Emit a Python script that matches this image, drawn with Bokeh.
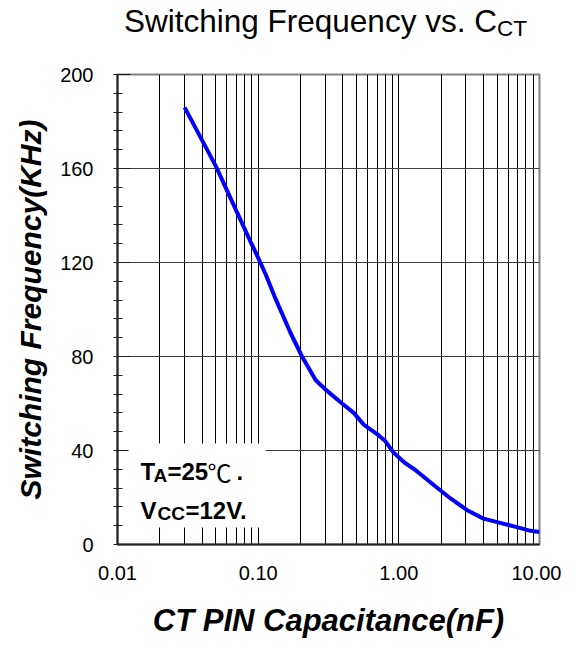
import math
from bokeh.plotting import figure
from bokeh.models import FixedTicker, NumeralTickFormatter, Label, BoxAnnotation, Range1d, Div
from bokeh.layouts import column
from bokeh.embed import file_html
from bokeh.resources import INLINE

# ---- data ----
cap_nf = [0.03, 0.05, 0.0835, 0.088, 0.1, 0.113, 0.133, 0.17, 0.205, 0.256, 0.3,
          0.395, 0.478, 0.563, 0.7, 0.8, 0.92, 1.11, 1.31, 1.77, 2.33, 3.06,
          4.0, 5.0, 6.9, 8.4, 10.0]
freq_khz = [186, 161, 132, 129, 122, 115, 104.5, 90, 80, 70, 66,
            60, 56, 51, 47, 44, 39, 34.6, 31.7, 25.3, 19.6, 14.6,
            11, 9.5, 7.4, 6, 5.3]

x_major = [0.01, 0.1, 1.0, 10.0]
x_minor = [m * d for d in (0.01, 0.1, 1.0) for m in range(2, 10)]
y_major = [0, 40, 80, 120, 160, 200]
y_minor = [v for v in range(8, 200, 8) if v % 40 != 0]

FONT = "Liberation Sans"
TITLE_H = 46

title = Div(
    text=('Switching Frequency vs. C<span style="font-size:22.5px;position:relative;top:4px">CT</span>'),
    width=561, height=TITLE_H, margin=0,
    styles={"font-family": FONT, "font-size": "31.5px", "line-height": "1",
            "padding-top": "6px", "padding-left": "124px", "color": "black",
            "white-space": "nowrap"})

p = figure(width=561, height=632 - TITLE_H, frame_width=422, frame_height=470,
           x_axis_type="log", output_backend="svg", toolbar_location=None,
           x_range=Range1d(0.01, 10), y_range=Range1d(0, 200),
           min_border_left=117, min_border_right=22, min_border_top=74 - TITLE_H,
           min_border_bottom=96, margin=0)
p.background_fill_color = "white"
p.border_fill_color = "white"
p.outline_line_color = "#808080"
p.outline_line_width = 2

# x axis
p.xaxis.ticker = FixedTicker(ticks=x_major, minor_ticks=x_minor)
p.xaxis.formatter = NumeralTickFormatter(format="0.00")
p.xaxis.major_tick_in = 0
p.xaxis.major_tick_out = 0
p.xaxis.minor_tick_in = 0
p.xaxis.minor_tick_out = 0
p.xaxis.axis_line_color = "#202020"
p.xaxis.axis_line_width = 2
p.xaxis.major_label_standoff = 21
p.xaxis.major_label_text_font = FONT
p.xaxis.major_label_text_font_size = "20px"
p.xaxis.major_label_text_color = "black"
p.xaxis.axis_label = "CT PIN Capacitance(nF)"
p.xaxis.axis_label_text_font = FONT
p.xaxis.axis_label_text_font_size = "31px"
p.xaxis.axis_label_text_font_style = "bold italic"
p.xaxis.axis_label_text_color = "black"
p.xaxis.axis_label_standoff = 20

# y axis
p.yaxis.ticker = FixedTicker(ticks=y_major, minor_ticks=y_minor)
p.yaxis.major_tick_in = 13
p.yaxis.major_tick_out = 4
p.yaxis.minor_tick_in = 5
p.yaxis.minor_tick_out = 4
p.yaxis.major_tick_line_color = "#202020"
p.yaxis.minor_tick_line_color = "#202020"
p.yaxis.axis_line_color = "#202020"
p.yaxis.axis_line_width = 2
p.yaxis.major_label_standoff = 20
p.yaxis.major_label_text_font = FONT
p.yaxis.major_label_text_font_size = "20px"
p.yaxis.major_label_text_color = "black"
p.yaxis.axis_label = "Switching Frequency(KHz)"
p.yaxis.axis_label_text_font = FONT
p.yaxis.axis_label_text_font_size = "30px"
p.yaxis.axis_label_text_font_style = "bold italic"
p.yaxis.axis_label_text_color = "black"
p.yaxis.axis_label_standoff = 10

# grids
p.xgrid.grid_line_color = "black"
p.xgrid.grid_line_width = 1
p.xgrid.minor_grid_line_color = "black"
p.xgrid.minor_grid_line_width = 1
p.ygrid.grid_line_color = "#404040"
p.ygrid.grid_line_width = 1

# curve
p.line(cap_nf, freq_khz, line_color="#0000FF", line_width=4)

# white box behind the condition note
p.add_layout(BoxAnnotation(left=0.01197, right=0.1128, bottom=7.2, top=43.0,
                           fill_color="white", fill_alpha=1.0, line_color=None))

def lab(text, x, y, size, style="bold", font=FONT):
    p.add_layout(Label(x=x, y=y, x_units="screen", y_units="screen", text=text,
                       text_font=font, text_font_size=size, text_font_style=style,
                       text_align="left", text_baseline="alphabetic",
                       text_color="black"))

# condition note
lab("T", 23, 73, "24px")
lab("A", 36, 69, "19px")
lab("=25", 50, 73, "24px")
lab("\u2103", 90, 73, "24px", style="normal", font="Noto Sans CJK SC")
lab(".", 119, 73, "24px")
lab("V", 23, 34, "24px")
lab("CC", 40, 31, "19px")
lab("=12V.", 68, 34, "24px")

open("out.html", "w").write(file_html(column(title, p, spacing=0), INLINE))
